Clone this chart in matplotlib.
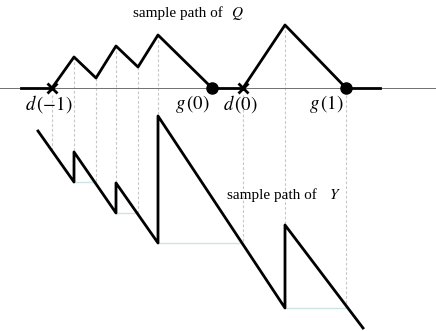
import matplotlib
matplotlib.use("Agg")
import matplotlib.pyplot as plt

plt.rcParams['mathtext.fontset'] = 'stix'
plt.rcParams['font.family'] = ['Liberation Serif', 'DejaVu Serif']

# Q sample path (time, queue level) - screen-like units
q_axis = 88
q1_t = [52, 74, 96, 116, 138, 158, 212]
q1_v = [0, 31, 10, 42, 21, 53, 0]
q2_t = [243, 285, 346]
q2_v = [0, 63, 0]
q_flat = [(21, 52), (212, 243), (346, 380)]
d_times = [52, 243]
g_times = [212, 346]
d_labels = [r"$d\,(-1)$", r"$d\,(0)$"]
g_labels = [r"$g\,(0)$", r"$g\,(1)$"]

# Y sample path (time, level, drawn downward)
y_t = [38, 74, 74, 116, 116, 158, 158, 285, 285, 363]
y_v = [131, 182, 152, 213, 183, 243, 116, 308, 225, 328]

# horizontal "return to previous minimum" segments
h_start = [74, 116, 158, 285]
h_end = [96, 138, 242, 346]
h_level = [182, 213, 243, 308]

# vertical guide lines: (time, top, bottom)
v_t = [52, 74, 96, 116, 138, 158, 243, 285, 346]
v_top = [95, 57, 78, 46, 67, 35, 95, 25, 95]
v_bot = [152, 152, 184, 183, 213, 116, 243, 225, 308]

fig = plt.figure(figsize=(4.36, 3.31), dpi=100)
ax = fig.add_axes([0, 0, 1, 1])
ax.set_xlim(0, 436)
ax.set_ylim(331, 0)
ax.axis('off')

# guides
for t, a, b in zip(v_t, v_top, v_bot):
    ax.plot([t, t], [a, b], color='#c8c8c8', lw=0.8, ls=(0, (2.5, 1.8)), zorder=1)
for a, b, l in zip(h_start, h_end, h_level):
    ax.plot([a, b], [l, l], color='#cde4e4', lw=1.0, zorder=1)

# axis line
ax.plot([0, 436], [q_axis, q_axis], color='#707070', lw=0.7, zorder=2)

# Q path
ax.plot(q1_t, [q_axis - v for v in q1_v], color='black', lw=2, zorder=3)
ax.plot(q2_t, [q_axis - v for v in q2_v], color='black', lw=2, zorder=3)
for a, b in q_flat:
    ax.plot([a, b], [q_axis, q_axis], color='black', lw=2, zorder=3)
ax.plot(d_times, [q_axis] * len(d_times), ls='none', marker='x', ms=7, mew=2,
        color='black', zorder=4)
ax.plot(g_times, [q_axis] * len(g_times), ls='none', marker='o', ms=8,
        color='black', zorder=4)

for t, lab in zip(d_times, d_labels):
    ax.text(t - 3, 104, lab, fontsize=13.5, ha='center', va='center')
for t, lab in zip(g_times, g_labels):
    ax.text(t - 20, 104, lab, fontsize=13.5, ha='center', va='center')

# Y path
ax.plot(y_t, y_v, color='black', lw=2, zorder=3)

ax.text(223, 13, "sample path of", fontsize=11, ha='right', va='center')
ax.text(237, 13, r"$Q$", fontsize=11, ha='center', va='center')
ax.text(317, 195, "sample path of", fontsize=11, ha='right', va='center')
ax.text(335, 195, r"$Y$", fontsize=11, ha='center', va='center')

fig.savefig("out.png", dpi=100)
